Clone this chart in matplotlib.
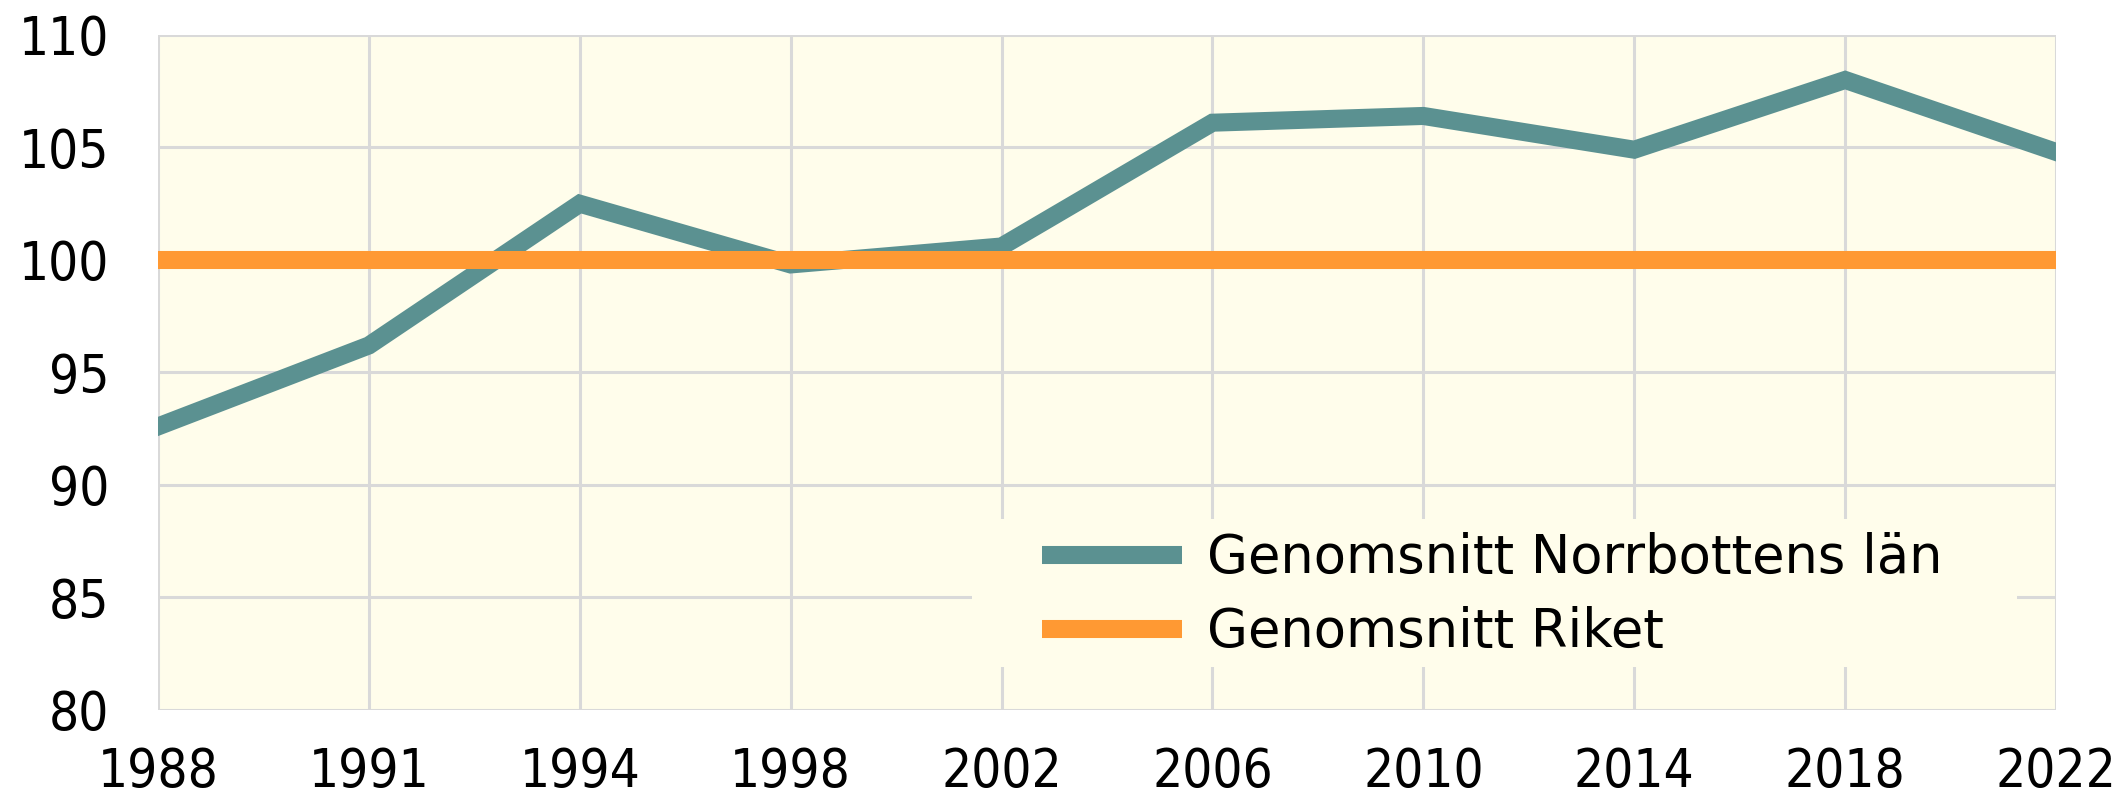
import numpy as np
import matplotlib
matplotlib.use("Agg")
import matplotlib.pyplot as plt
from matplotlib.patches import Rectangle

# --------------------------------------------------------------------------- #
# Data
# --------------------------------------------------------------------------- #

YEARS = ["1988", "1991", "1994", "1998", "2002", "2006", "2010", "2014", "2018", "2022"]
NORRBOTTEN = [92.6, 96.2, 102.5, 99.8, 100.6, 106.1, 106.4, 104.9, 108.0, 104.8]
RIKET = [100, 100, 100, 100, 100, 100, 100, 100, 100, 100]
Y_TICKS = [80, 85, 90, 95, 100, 105, 110]

LABEL_NORR = "Genomsnitt Norrbottens län"
LABEL_RIKET = "Genomsnitt Riket"

TEAL = "#5B9191"
ORANGE = "#FF9933"
BG = "#FFFDEB"
GRID = "#D9D9D9"
FS = 38

plt.rcParams["font.family"] = ["DejaVu Sans"]
plt.rcParams["font.stretch"] = "condensed"

fig = plt.figure(figsize=(21.26, 7.98), dpi=100)
ax = fig.add_axes([0.0743, 0.1103, 0.8928, 0.8459])
ax.set_facecolor(BG)

x = np.arange(len(YEARS))
ax.plot(x, NORRBOTTEN, color=TEAL, linewidth=13, solid_joinstyle="miter",
        label=LABEL_NORR, zorder=3)
ax.plot(x, RIKET, color=ORANGE, linewidth=13, label=LABEL_RIKET, zorder=3)

ax.set_xlim(0, len(YEARS) - 1)
ax.set_ylim(80, 110)
ax.set_xticks(x)
ax.set_xticklabels(YEARS)
ax.set_yticks(Y_TICKS)
ax.grid(True, color=GRID, linewidth=2.2, zorder=0)
ax.set_axisbelow(True)
for s in ax.spines.values():
    s.set_visible(False)
ax.tick_params(axis="both", length=0, labelsize=FS, colors="black")
ax.tick_params(axis="y", pad=35)
ax.tick_params(axis="x", pad=26)

# legend background box (hides the grid behind the legend)
ax.add_patch(Rectangle((0.4289, 0.0637), 0.5506, 0.2193, transform=ax.transAxes,
                       facecolor=BG, edgecolor="none", zorder=1))

leg = ax.legend(loc="center left", bbox_to_anchor=(0.4658, 0.170),
                prop={"size": FS, "stretch": "normal"},
                frameon=False, handlelength=2.65, handletextpad=0.47,
                labelspacing=0.42, borderpad=0, borderaxespad=0)
for line in leg.get_lines():
    line.set_linewidth(13)
    line.set_solid_capstyle("butt")

fig.savefig("out.png", dpi=100)
